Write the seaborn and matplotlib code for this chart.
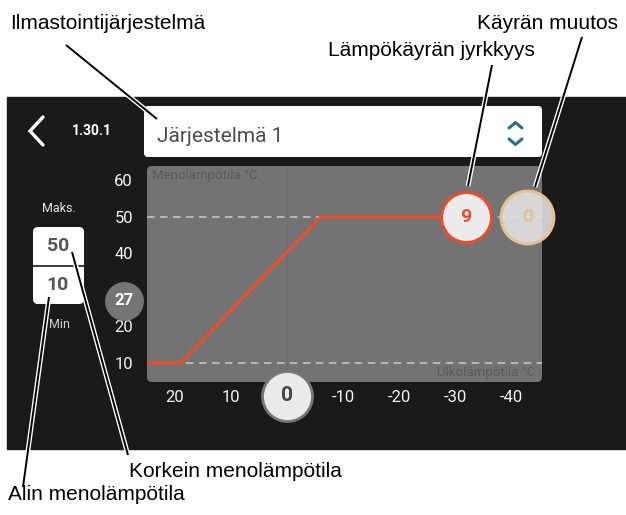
import numpy as np
import pandas as pd
import matplotlib.pyplot as plt
import seaborn as sns
from matplotlib.patches import FancyBboxPatch, Rectangle

# ─────────────────────────────────────────────
# DATA (read off the display)
# ─────────────────────────────────────────────
outdoor_temp = [25, 19, -6, -32]      # °C, heating curve break points
flow_temp = [10, 10, 50, 50]          # °C
x_ticks = [20, 10, -10, -20, -30, -40]
y_ticks = [10, 20, 30, 40, 50, 60]
flow_max = 50
flow_min = 10
curve_slope = 9
curve_offset = 0
current_outdoor = 0
current_flow = 27
menu_id = "1.30.1"
system_name = "Järjestelmä 1"

labels_top = ["Ilmastointijärjestelmä", "Lämpökäyrän jyrkkyys", "Käyrän muutos"]
labels_bottom = ["Korkein menolämpötila", "Alin menolämpötila"]

# ─────────────────────────────────────────────
# FIGURE / LAYERS
# ─────────────────────────────────────────────
sns.set_theme(style="white")
plt.rcParams["font.family"] = ["Roboto", "DejaVu Sans"]
plt.rcParams["axes.unicode_minus"] = False

W, H = 626, 515
fig = plt.figure(figsize=(W / 100, H / 100), dpi=100)
fig.patch.set_facecolor("white")


def pixel_layer(z):
    a = fig.add_axes([0, 0, 1, 1], zorder=z)
    a.set_xlim(0, W)
    a.set_ylim(H, 0)
    a.axis("off")
    a.patch.set_alpha(0)
    return a


ui = pixel_layer(0)

# dark screen
ui.add_patch(Rectangle((7, 97), W - 7, 352, color="#1a1a1a", zorder=0))
# drop-down box
ui.add_patch(FancyBboxPatch((144, 106), 398, 51, boxstyle="round,pad=0,rounding_size=4",
                            fc="white", ec="none", zorder=1))
ui.text(157, 137, system_name, fontsize=15, color="#4d4d4d", ha="left", va="center")
ui.plot([509, 515.5, 522], [128, 122.5, 128], color="#2b6e84", lw=2.2, solid_capstyle="round")
ui.plot([509, 515.5, 522], [139, 144.5, 139], color="#2b6e84", lw=2.2, solid_capstyle="round")
# back arrow + menu number
ui.plot([43, 30, 43], [117, 131, 145], color="white", lw=2.4, solid_joinstyle="miter")
ui.text(92, 131, menu_id, fontsize=10, color="white", fontweight="bold", ha="center", va="center")
# graph background
ui.add_patch(FancyBboxPatch((147, 166), 395, 216, boxstyle="round,pad=0,rounding_size=5",
                            fc="#737373", ec="none", zorder=1))
# min / max box
ui.text(59, 208, "Maks.", fontsize=9, color="#e6e6e6", ha="center", va="center")
ui.add_patch(FancyBboxPatch((33, 227), 51, 77, boxstyle="round,pad=0,rounding_size=5",
                            fc="white", ec="none", zorder=1))
ui.plot([33, 84], [266, 266], color="#1a1a1a", lw=1.2, zorder=2)
ui.text(58, 246, str(flow_max), fontsize=14, color="#555555", fontweight="bold", ha="center", va="center")
ui.text(58, 285, str(flow_min), fontsize=14, color="#555555", fontweight="bold", ha="center", va="center")
ui.text(59, 324, "Min", fontsize=9, color="#d0d0d0", ha="center", va="center")

# ─────────────────────────────────────────────
# CURVE AXES
# ─────────────────────────────────────────────
ax = fig.add_axes([147 / W, (H - 382) / H, 395 / W, 216 / H], zorder=1)
ax.patch.set_alpha(0)
for s in ax.spines.values():
    s.set_visible(False)
ax.set_xlim(25, -45.54)
ax.set_ylim(4.79, 63.97)
ax.set_xticks(x_ticks)
ax.set_yticks(y_ticks)
ax.tick_params(axis="both", length=0, colors="#f2f2f2", labelsize=12)
ax.tick_params(axis="x", pad=6)
ax.tick_params(axis="y", pad=10)
ax.grid(False)

ax.axhline(flow_max, color="#c8c8c8", lw=1.1, ls=(0, (5, 3.5)), zorder=1)
ax.axhline(flow_min, color="#c8c8c8", lw=1.1, ls=(0, (5, 3.5)), zorder=1)
ax.axvline(current_outdoor, color="#6c6c6c", lw=0.6, zorder=0.5)

sns.lineplot(x=outdoor_temp, y=flow_temp, ax=ax, color="#ee4b2b", lw=2.2,
             sort=False, estimator=None, zorder=2)

ax.text(0.013, 0.958, "Menolämpötila °C", transform=ax.transAxes, fontsize=9.5,
        color="#5a5a5a", ha="left", va="center")
ax.text(0.982, 0.046, "Ulkolämpötila °C", transform=ax.transAxes, fontsize=9.5,
        color="#5a5a5a", ha="right", va="center")

# handles
ax.scatter([outdoor_temp[-1]], [flow_max], s=1296, color="#ececec", edgecolors="#ee4b2b",
           linewidths=2.2, zorder=5, clip_on=False)
ax.text(outdoor_temp[-1], flow_max, str(curve_slope), fontsize=14, fontweight="bold",
        color="#ee4b2b", ha="center", va="center", zorder=6)

ax.scatter([-42.9], [flow_max], s=1444, color=(0.9, 0.9, 0.9, 0.88), edgecolors="#e7c18d",
           linewidths=2.2, zorder=5, clip_on=False)
ax.text(-42.9, flow_max, str(curve_offset), fontsize=14, fontweight="bold",
        color="#e7c18d", ha="center", va="center", zorder=6)

ax.scatter([current_outdoor], [1], s=1296, color="#eaeaea", edgecolors="#767676",
           linewidths=2, zorder=5, clip_on=False)
ax.text(current_outdoor, 1, str(current_outdoor), fontsize=15, fontweight="bold",
        color="#444444", ha="center", va="center", zorder=6)

ax.scatter([29.1], [current_flow], s=784, color="#757575", linewidths=0, zorder=5, clip_on=False)
ax.text(29.1, current_flow, str(current_flow), fontsize=12, fontweight="bold",
        color="white", ha="center", va="center", zorder=6)

# ─────────────────────────────────────────────
# CALLOUTS
# ─────────────────────────────────────────────
top = pixel_layer(2)
leaders = [
    ([66, 157], [45, 119]),
    ([492, 468], [65, 186]),
    ([582, 535], [37, 187]),
    ([72, 128], [252, 455]),
    ([49, 23], [297, 487]),
]
for xs, ys in leaders:
    top.plot(xs, ys, color="white", lw=3.4, solid_capstyle="butt")
    top.plot(xs, ys, color="black", lw=1.4, solid_capstyle="butt")

ann = dict(fontsize=15, color="black", family=["Liberation Sans", "DejaVu Sans"], va="baseline")
top.text(10, 29, labels_top[0], ha="left", **ann)
top.text(535, 56, labels_top[1], ha="right", **ann)
top.text(618, 29, labels_top[2], ha="right", **ann)
top.text(129, 477, labels_bottom[0], ha="left", **ann)
top.text(8, 500, labels_bottom[1], ha="left", **ann)

fig.savefig("out.png", dpi=100)
